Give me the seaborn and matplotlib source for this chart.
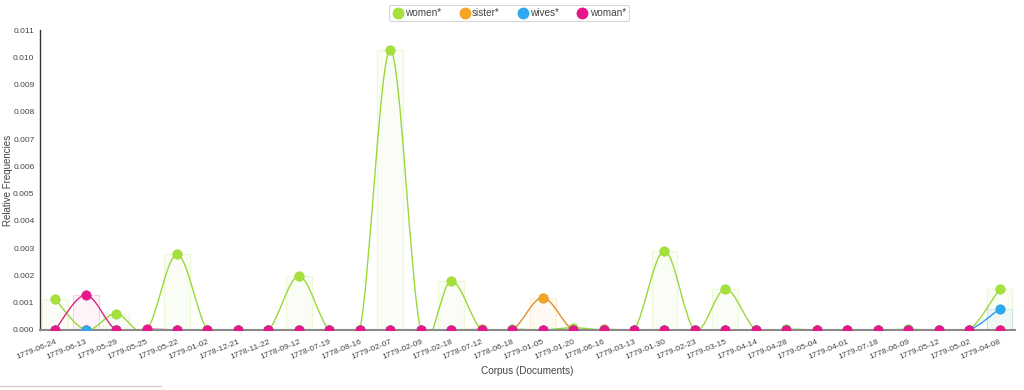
import matplotlib
matplotlib.use("Agg")
import matplotlib.pyplot as plt
from matplotlib.path import Path
from matplotlib.patches import PathPatch
from matplotlib.lines import Line2D
import pandas as pd
import seaborn as sns

dates = ["1779-06-24", "1779-06-13", "1779-05-29", "1779-05-25", "1779-05-22", "1779-01-02",
         "1778-12-21", "1778-11-22", "1778-09-12", "1778-07-19", "1778-08-16", "1779-02-07",
         "1779-02-09", "1779-02-18", "1778-07-12", "1778-06-18", "1779-01-05", "1779-01-20",
         "1778-06-16", "1779-03-13", "1779-01-30", "1779-02-23", "1779-03-15", "1779-04-14",
         "1779-04-28", "1779-05-04", "1779-04-01", "1779-07-18", "1778-06-09", "1779-05-12",
         "1779-05-02", "1779-04-08"]

women = [0.00113, 0, 0.0006, 0, 0.00277, 0, 0, 0, 0.00197, 0, 0, 0.01027,
         0, 0.0018, 0, 0.00003, 0, 0.00008, 0, 0, 0.0029, 0, 0.0015, 0,
         0.00003, 0, 0, 0, 0.00002, 0, 0, 0.0015]
sister = [0, 0, 0, 0, 0, 0, 0, 0, 0, 0, 0, 0,
          0, 0, 0.00002, 0, 0.00118, 0, 0.00002, 0, 0, 0, 0, 0,
          0, 0, 0, 0, 0, 0, 0, 0]
wives = [0, 0, 0, 0, 0, 0, 0, 0, 0, 0, 0, 0,
         0, 0, 0, 0, 0, 0, 0, 0, 0, 0, 0, 0,
         0, 0, 0, 0, 0, 0, 0, 0.00077]
woman = [0, 0.00128, 0, 0.00003, 0, 0, 0, 0, 0, 0, 0, 0,
         0, 0, 0, 0, 0, 0, 0, 0, 0, 0, 0, 0,
         0, 0, 0, 0, 0, 0, 0, 0]

terms = ["women*", "sister*", "wives*", "woman*"]
marker_colors = ["#a6e03c", "#f5a424", "#2ea8f0", "#e8168a"]
line_colors = ["#9ad83a", "#d8922e", "#2a9ee6", "#d9287f"]


def cardinal_path(xs, ys):
    # cardinal (catmull-rom) curve through the points, as bezier segments
    verts = [(xs[0], ys[0])]
    codes = [Path.MOVETO]
    n = len(xs)
    for i in range(n - 1):
        a = max(i - 1, 0)
        d = min(i + 2, n - 1)
        verts.append((xs[i] + (xs[i + 1] - xs[a]) / 6, ys[i] + (ys[i + 1] - ys[a]) / 6))
        verts.append((xs[i + 1] - (xs[d] - xs[i]) / 6, ys[i + 1] - (ys[d] - ys[i]) / 6))
        verts.append((xs[i + 1], ys[i + 1]))
        codes += [Path.CURVE4] * 3
    return Path(verts, codes)


sns.set_style("white")
plt.rcParams['font.family'] = ['Liberation Sans', 'DejaVu Sans']

df = pd.DataFrame({"Document": dates, "women*": women, "sister*": sister,
                   "wives*": wives, "woman*": woman})
long_df = df.melt(id_vars="Document", var_name="Term", value_name="Frequency")
long_df["pos"] = long_df.groupby("Term").cumcount()

fig = plt.figure(figsize=(10.24, 3.9), dpi=100)
ax = fig.add_axes([0.039, 0.154, 0.952, 0.769])

for term, mc, lc in zip(terms, marker_colors, line_colors):
    sub = long_df[long_df["Term"] == term]
    xs = sub["pos"].tolist()
    ys = sub["Frequency"].tolist()
    nz = sub[sub["Frequency"] > 0]
    ax.bar(nz["pos"], nz["Frequency"], width=0.85, color=mc, alpha=0.05, zorder=1)
    ax.bar(nz["pos"], nz["Frequency"], width=0.85, fill=False, edgecolor=mc,
           alpha=0.18, linewidth=0.8, zorder=1)
    ax.add_patch(PathPatch(cardinal_path(xs, ys), facecolor="none", edgecolor=lc,
                           linewidth=1.0, zorder=2))

for term, mc, lc in zip(terms, marker_colors, line_colors):
    sub = long_df[long_df["Term"] == term]
    sns.scatterplot(data=sub, x="pos", y="Frequency", color=mc, s=46,
                    edgecolor=lc, linewidth=0.5, ax=ax, zorder=3, legend=False)

ax.set_xlim(-0.5, len(dates) - 0.5)
ax.set_ylim(0, 0.011)
ax.set_yticks([i / 1000 for i in range(12)])
ax.set_yticklabels([f"{i / 1000:.3f}" for i in range(12)])
ax.set_xticks(range(len(dates)))
ax.set_xticklabels(dates, rotation=22, ha="right", rotation_mode="anchor")
ax.tick_params(axis="both", labelsize=6.0, colors="#444", length=3, width=0.8)
ax.tick_params(axis="y", pad=1)
ax.tick_params(axis="x", pad=3)

for side in ["top", "right"]:
    ax.spines[side].set_visible(False)
ax.spines["left"].set_color("#333")
ax.spines["left"].set_linewidth(1.0)
ax.spines["bottom"].set_color("#8a8a8a")
ax.spines["bottom"].set_linewidth(1.5)
ax.spines["bottom"].set_zorder(2.5)

ax.set_xlabel("Corpus (Documents)", fontsize=7.2, color="#444", labelpad=4)
ax.set_ylabel("Relative Frequencies", fontsize=7.0, color="#444")
ax.yaxis.set_label_coords(-0.0275, 0.5)

handles = [Line2D([], [], marker="o", linestyle="none", markersize=7.5,
                  markerfacecolor=c, markeredgecolor=c) for c in marker_colors]
leg = fig.legend(handles, terms, loc="upper center", bbox_to_anchor=(0.497, 1.0),
                 ncol=4, fontsize=7.2, frameon=True, edgecolor="#cccccc",
                 handletextpad=0.15, columnspacing=1.7, borderpad=0.3,
                 handlelength=1.2, fancybox=True)
leg.get_frame().set_linewidth(0.8)
for t in leg.get_texts():
    t.set_color("#444")

fig.add_artist(Line2D([0.0, 0.157], [0.01, 0.01], transform=fig.transFigure,
                      color="#d0d0d0", linewidth=1))

fig.savefig("out.png", dpi=100)
